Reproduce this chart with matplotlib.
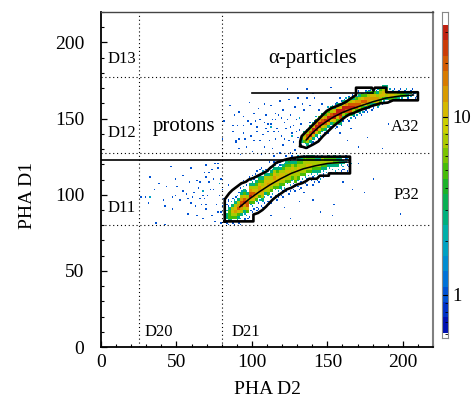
import numpy as np
import matplotlib
matplotlib.use("Agg")
import matplotlib.pyplot as plt
from matplotlib.colors import LinearSegmentedColormap, LogNorm
from matplotlib.ticker import LogLocator, NullFormatter

plt.rcParams['font.family'] = ['Liberation Serif', 'DejaVu Serif']

# count level per character in the band tables (2-unit cells)
LEVELS = {'1': 1, '2': 2, '3': 3, '4': 5, '5': 7, '6': 10, '7': 14, '8': 20, '9': 28}
SPARSE = '12'   # low levels are single events, drawn as one 1-unit cell

# proton band: (x left, y bottom, counts going up in 2-unit cells)
PROTON_COLS = [
    (82, 80, "12332.1"), (84, 80, "1344431.1"), (86, 80, "124565321"),
    (88, 80, "1245765321"), (90, 80, "12346875321"), (92, 80, "1.23579875321"),
    (94, 82, "1.2357986432.1"), (96, 82, "11246887532.1"), (98, 88, "1.2469875321"),
    (100, 88, "1124678653211"), (102, 90, "1.24676543211"), (104, 90, "1.1246776432.1"),
    (106, 90, "1.235676543.21"), (108, 94, "1.2356665321"), (110, 92, "11.2456765321.1"),
    (112, 94, "1.12456654321"), (114, 98, "1.2456765321.1"), (116, 96, "11.2456654321"),
    (118, 98, "1.2345665321"), (120, 98, "1.12456654321"), (122, 102, "1.2455654321"),
    (124, 100, "11.245665431"), (126, 102, "1.1245565321"), (128, 102, "1.24556543.1"),
    (130, 102, "11.245565432"), (132, 104, "1.124555432"), (134, 106, "1.24555542"),
    (136, 106, "1.12456543"), (138, 108, "1.2456543"), (140, 106, "11.2345543"),
    (142, 108, "1.2345531"), (144, 108, "12.345532"), (146, 110, "1.234552"),
    (148, 112, "1234542"), (150, 112, "1.23543"), (152, 114, "123542"),
    (154, 114, "1.3443"), (156, 114, "123431"), (158, 114, "1.2332"),
    (160, 114, ".12321"), (162, 114, "1.1221"), (164, 114, "..121"),
]

# alpha band
ALPHA_COLS = [
    (132, 132, "1331"), (134, 132, "24653"), (136, 130, "1358852"),
    (138, 132, "13698531"), (140, 134, "13699631"), (142, 136, "13699742"),
    (144, 136, "12469974"), (146, 138, "12469863"), (148, 140, "13589742"),
    (150, 142, "13699742"), (152, 144, "13698531"), (154, 142, "124699631"),
    (156, 144, "124699631"), (158, 144, "135899631"), (160, 148, "13599631"),
    (162, 148, "12489742"), (164, 148, "124898531"), (166, 150, "13598631"),
    (168, 150, "12488742"), (170, 152, "13587531"), (172, 152, "12478642"),
    (174, 154, "1368742"), (176, 154, "12477531"), (178, 154, "1.367642"),
    (180, 156, "1357642"), (182, 156, "2467531"), (184, 158, "2456542"),
    (186, 160, "246653"), (188, 160, "135653"), (190, 160, "14652"),
    (192, 162, "4652"), (194, 162, "3551"), (196, 162, "3541"),
    (198, 162, "2441"), (200, 162, "2431"), (202, 162, "1332"),
    (204, 162, "1231"), (206, 162, ".221"), (208, 162, ".12."),
]

# single scattered events (1-unit cells)
BG_LEFT = [(32, 111), (29, 98), (31, 94), (35, 103), (38, 107), (46, 118), (49, 110), (47, 98),
           (42, 92), (43, 105), (41, 96), (50, 105), (54, 102), (52, 96), (47, 90), (54, 112),
           (58, 108), (56, 100), (57, 97), (59, 94), (60, 98), (62, 92), (63, 109), (64, 104),
           (65, 97), (70, 99), (71, 108), (67, 84), (63, 86), (57, 87), (42, 80), (36, 81),
           (69, 90), (68, 114), (69, 93), (49, 99), (69, 111), (71, 114), (73, 116), (75, 120),
           (77, 117), (69, 119), (59, 117), (65, 108), (72, 103), (68, 97), (77, 88), (75, 82),
           (79, 81), (80, 92), (79, 88), (67, 99), (74, 103), (79, 110), (77, 120), (81, 97),
           (84, 106), (26, 98), (76, 93), (73, 86), (61, 101), (66, 93), (78, 99), (74, 110),
           (80, 103)]
BG_UPPER = [(81, 148), (80, 136), (85, 158), (91, 154), (90, 145), (89, 135), (87, 141), (91, 130),
            (94, 151), (88, 152), (87, 145), (94, 145), (97, 148), (99, 146), (101, 153), (102, 148),
            (103, 144), (108, 159), (108, 147), (109, 143), (110, 141), (112, 146), (113, 149),
            (115, 153), (114, 141), (116, 143), (99, 138), (95, 136), (91, 136), (101, 135),
            (105, 135), (111, 135), (89, 134), (113, 130), (94, 140), (103, 141), (117, 152),
            (105, 149), (110, 146), (115, 149), (119, 150), (121, 147), (123, 149), (122, 143),
            (125, 144), (117, 141), (126, 140), (115, 136), (124, 135), (130, 137), (127, 134),
            (133, 159), (134, 155), (136, 163), (138, 158), (141, 163), (146, 159), (144, 155),
            (130, 163), (136, 169), (123, 169), (109, 152), (132, 146), (129, 149), (158, 163),
            (153, 158), (152, 170), (100, 128), (106, 126), (118, 127), (128, 129), (96, 131),
            (120, 132), (108, 131), (125, 127), (92, 126), (131, 142), (127, 145), (119, 138),
            (104, 156), (98, 160), (112, 158), (120, 155), (125, 152), (128, 157), (118, 161),
            (140, 166), (124, 162), (107, 139), (121, 136), (129, 141)]
BG_LOWER = [(180, 110), (198, 87), (174, 101), (153, 86), (166, 103), (186, 130), (160, 108),
            (131, 95), (121, 91), (154, 93), (134, 101), (145, 88), (170, 120), (158, 140),
            (163, 135), (170, 131), (176, 137), (190, 146), (165, 143), (125, 84), (140, 96),
            (112, 86)]
HALO = [(100, 108), (104, 110), (108, 113), (113, 116), (118, 119), (124, 121), (128, 123),
        (135, 123), (140, 124), (146, 124), (152, 124), (158, 124), (162, 123), (103, 89),
        (106, 92), (111, 95), (117, 100), (122, 102), (128, 105), (134, 108), (140, 111),
        (147, 113), (155, 115), (160, 116), (90, 83), (95, 84), (98, 85), (86, 83), (84, 95),
        (133, 136), (137, 141), (142, 146), (147, 150), (152, 154), (157, 157), (162, 159),
        (168, 163), (172, 166), (175, 168), (178, 169), (183, 169), (186, 168), (170, 168),
        (174, 154), (180, 157), (186, 159), (195, 163), (200, 166), (205, 166), (208, 163),
        (160, 150), (150, 140), (145, 136), (156, 147), (176, 167), (178, 168), (182, 168),
        (185, 167), (188, 167), (192, 167), (195, 167), (198, 167), (201, 167), (204, 167),
        (207, 166)]
BG_TEAL = [(32, 98), (67, 102), (78, 107), (112, 144), (126, 138), (131, 150)]

# graphical cuts
PROTON_CUT_X = [82, 82, 83.5, 85, 87, 89, 91, 93, 96, 98, 101, 104, 107, 110, 112, 114, 116, 119,
                122, 126, 130, 133, 165, 165, 151, 151, 145, 143, 138, 136, 133, 129.5, 126, 123,
                119.5, 116.5, 114, 111.5, 109.5, 107, 104, 101, 101, 82]
PROTON_CUT_Y = [82.5, 97, 99, 101, 103, 104.5, 106, 107.5, 108.5, 110, 111, 112.5, 114, 115.5,
                117.5, 119, 121, 122, 123, 124, 124.5, 125, 125, 114, 114, 112.5, 112.5, 110.5,
                110.5, 109, 107.5, 106.5, 104.5, 103.5, 101, 99, 97, 94.5, 92.3, 90, 88, 87,
                82.5, 82.5]
ALPHA_CUT_X = [132, 132, 133, 136, 139.5, 143, 146, 149.5, 153, 157, 161.5, 166, 169, 169, 179.5,
               180.5, 181.5, 189, 189, 210, 210, 193.5, 190, 185, 180, 176, 171.5, 167, 165,
               162.5, 158.5, 154, 150.5, 147, 144, 140.5, 136, 132]
ALPHA_CUT_Y = [132, 135, 138.5, 141.5, 145, 148.5, 151.5, 155, 157, 158.5, 160.5, 163.5, 165.5,
               170.3, 170.3, 168.3, 170.3, 170.3, 167.3, 167.3, 162, 162, 160.5, 160, 158.5, 157,
               155.5, 153.5, 153, 151.5, 148.5, 145, 141.7, 138.4, 135, 133, 130.7, 132]

# fitted tracks
PROTON_FIT_X = [92, 98, 105, 112, 119, 126, 134, 142, 150, 158, 165]
PROTON_FIT_Y = [92, 97, 102, 106.5, 110.5, 114, 117, 119, 120.5, 121.2, 121.5]
ALPHA_FIT_X = [136, 140, 145, 150, 154, 160, 165, 171, 180, 189, 198, 207]
ALPHA_FIT_Y = [136, 140.5, 145, 148.5, 151, 154, 156, 158, 161, 163.5, 164.8, 165.5]

# thresholds
D1_THRESH = [80, 127.5, 177.5]
D2_THRESH = [25, 80.5]
PROTON_LINE = (0, 165, 122.5)
ALPHA_LINE = (100, 180, 167)

REGION_LABELS = [("D13", 4.5, 189), ("D12", 4.5, 140.5), ("D11", 4.5, 91.5),
                 ("D20", 29, 10), ("D21", 86.5, 10)]

# build the histogram
H = np.zeros((220, 220))
for x0, y0, s in PROTON_COLS + ALPHA_COLS:
    for i, ch in enumerate(s):
        if ch == '.':
            continue
        yb = y0 + 2 * i
        if ch in SPARSE:
            dx = (i + x0 // 2) % 2
            dy = (x0 // 2) % 2
            H[yb + dy, x0 + dx] += LEVELS[ch]
        else:
            H[yb:yb + 2, x0:x0 + 2] += LEVELS[ch]
for x, y in BG_LEFT + BG_UPPER + BG_LOWER + HALO:
    H[y, x] += 1
for x, y in BG_TEAL:
    H[y, x] += 2
Hm = np.ma.masked_equal(H, 0)

colors = ["#0010b0", "#0040d0", "#0070d8", "#0098d0", "#00b0b0", "#00b070", "#10b030",
          "#50c000", "#a0c800", "#d0d000", "#d8a800", "#d87800", "#d04800", "#c02010"]
cmap = LinearSegmentedColormap.from_list("rootpal", colors, N=20)
cmap.set_over("#c02010")
cmap.set_under("#0010b0")
ZMIN, ZMAX = 0.61, 32.9
norm = LogNorm(vmin=ZMIN, vmax=ZMAX)

fig = plt.figure(figsize=(4.74, 4.03), dpi=100)
ax = fig.add_axes([101 / 474, 56 / 403, 332 / 474, 335 / 403])

edges = np.arange(221)
ax.pcolormesh(edges, edges, Hm, cmap=cmap, norm=norm, shading='flat',
              antialiased=False, rasterized=True, zorder=1)

for y in D1_THRESH:
    ax.axhline(y, color='black', lw=0.8, ls=(0, (1, 2.5)), zorder=2)
for x in D2_THRESH:
    ax.axvline(x, color='black', lw=0.8, ls=(0, (1, 2.5)), zorder=2)

ax.plot([PROTON_LINE[0], PROTON_LINE[1]], [PROTON_LINE[2]] * 2, color='black', lw=1.2, zorder=3)
ax.plot([ALPHA_LINE[0], ALPHA_LINE[1]], [ALPHA_LINE[2]] * 2, color='black', lw=1.2, zorder=3)
ax.plot(PROTON_CUT_X, PROTON_CUT_Y, color='black', lw=1.9, zorder=4)
ax.plot(ALPHA_CUT_X, ALPHA_CUT_Y, color='black', lw=1.9, zorder=4)
ax.plot(PROTON_FIT_X, PROTON_FIT_Y, color='black', lw=1.1, zorder=4)
ax.plot(ALPHA_FIT_X, ALPHA_FIT_Y, color='black', lw=1.1, zorder=4)

for txt, x, y in REGION_LABELS:
    ax.text(x, y, txt, fontsize=12, ha='left', va='center')
ax.text(55, 145, "protons", fontsize=15, ha='center', va='center')
ax.text(140.5, 189.5, "α-particles", fontsize=15, ha='center', va='center')
ax.text(211, 144.5, "A32", fontsize=12, ha='right', va='center')
ax.text(211, 99.5, "P32", fontsize=12, ha='right', va='center')

ax.set_xlim(0, 220)
ax.set_ylim(0, 220)
ax.set_xticks(range(0, 201, 50))
ax.set_yticks(range(0, 201, 50))
ax.set_xticks(range(0, 221, 10), minor=True)
ax.set_yticks(range(0, 221, 10), minor=True)
ax.tick_params(which='both', direction='in', top=False, right=False, labelsize=14)
ax.tick_params(which='major', length=4.5, width=0.9)
ax.tick_params(which='minor', length=2.3, width=0.8)
ax.tick_params(axis='x', pad=5)
ax.tick_params(axis='y', pad=12)
for side in ['left', 'bottom']:
    ax.spines[side].set_linewidth(1.3)
ax.spines['top'].set_color('#444444')
ax.spines['top'].set_linewidth(1.0)
ax.spines['right'].set_color('#808080')
ax.spines['right'].set_linewidth(1.5)

fig.text(268 / 474, 1 - 390 / 403, "PHA D2", fontsize=14, ha='center', va='center')
fig.text(27.5 / 474, 1 - 196 / 403, "PHA D1", fontsize=14, ha='center', va='center',
         rotation=90)

# palette axis
cax = fig.add_axes([442 / 474, 65 / 403, 6 / 474, 326 / 403])
bounds = np.logspace(np.log10(ZMIN), np.log10(ZMAX), 21)
mids = np.sqrt(bounds[:-1] * bounds[1:])
cax.pcolormesh([0, 1], bounds, mids[:, None], cmap=cmap, norm=norm, shading='flat')
cax.set_yscale('log')
cax.set_ylim(0.57, 38.9)
cax.set_xlim(0, 1)
cax.set_xticks([])
cax.set_yticks([1, 10])
cax.set_yticklabels(['1', '10'])
cax.yaxis.set_minor_locator(LogLocator(base=10, subs=range(2, 10)))
cax.yaxis.set_minor_formatter(NullFormatter())
cax.tick_params(axis='y', which='both', direction='in', left=False, right=True,
                labelleft=False, labelright=True, labelsize=13.5, pad=3)
cax.tick_params(axis='y', which='major', length=4.3, width=0.8)
cax.tick_params(axis='y', which='minor', length=2, width=0.6)
for sp in cax.spines.values():
    sp.set_color('#888888')
    sp.set_linewidth(0.8)

fig.savefig("out.png", dpi=100)
